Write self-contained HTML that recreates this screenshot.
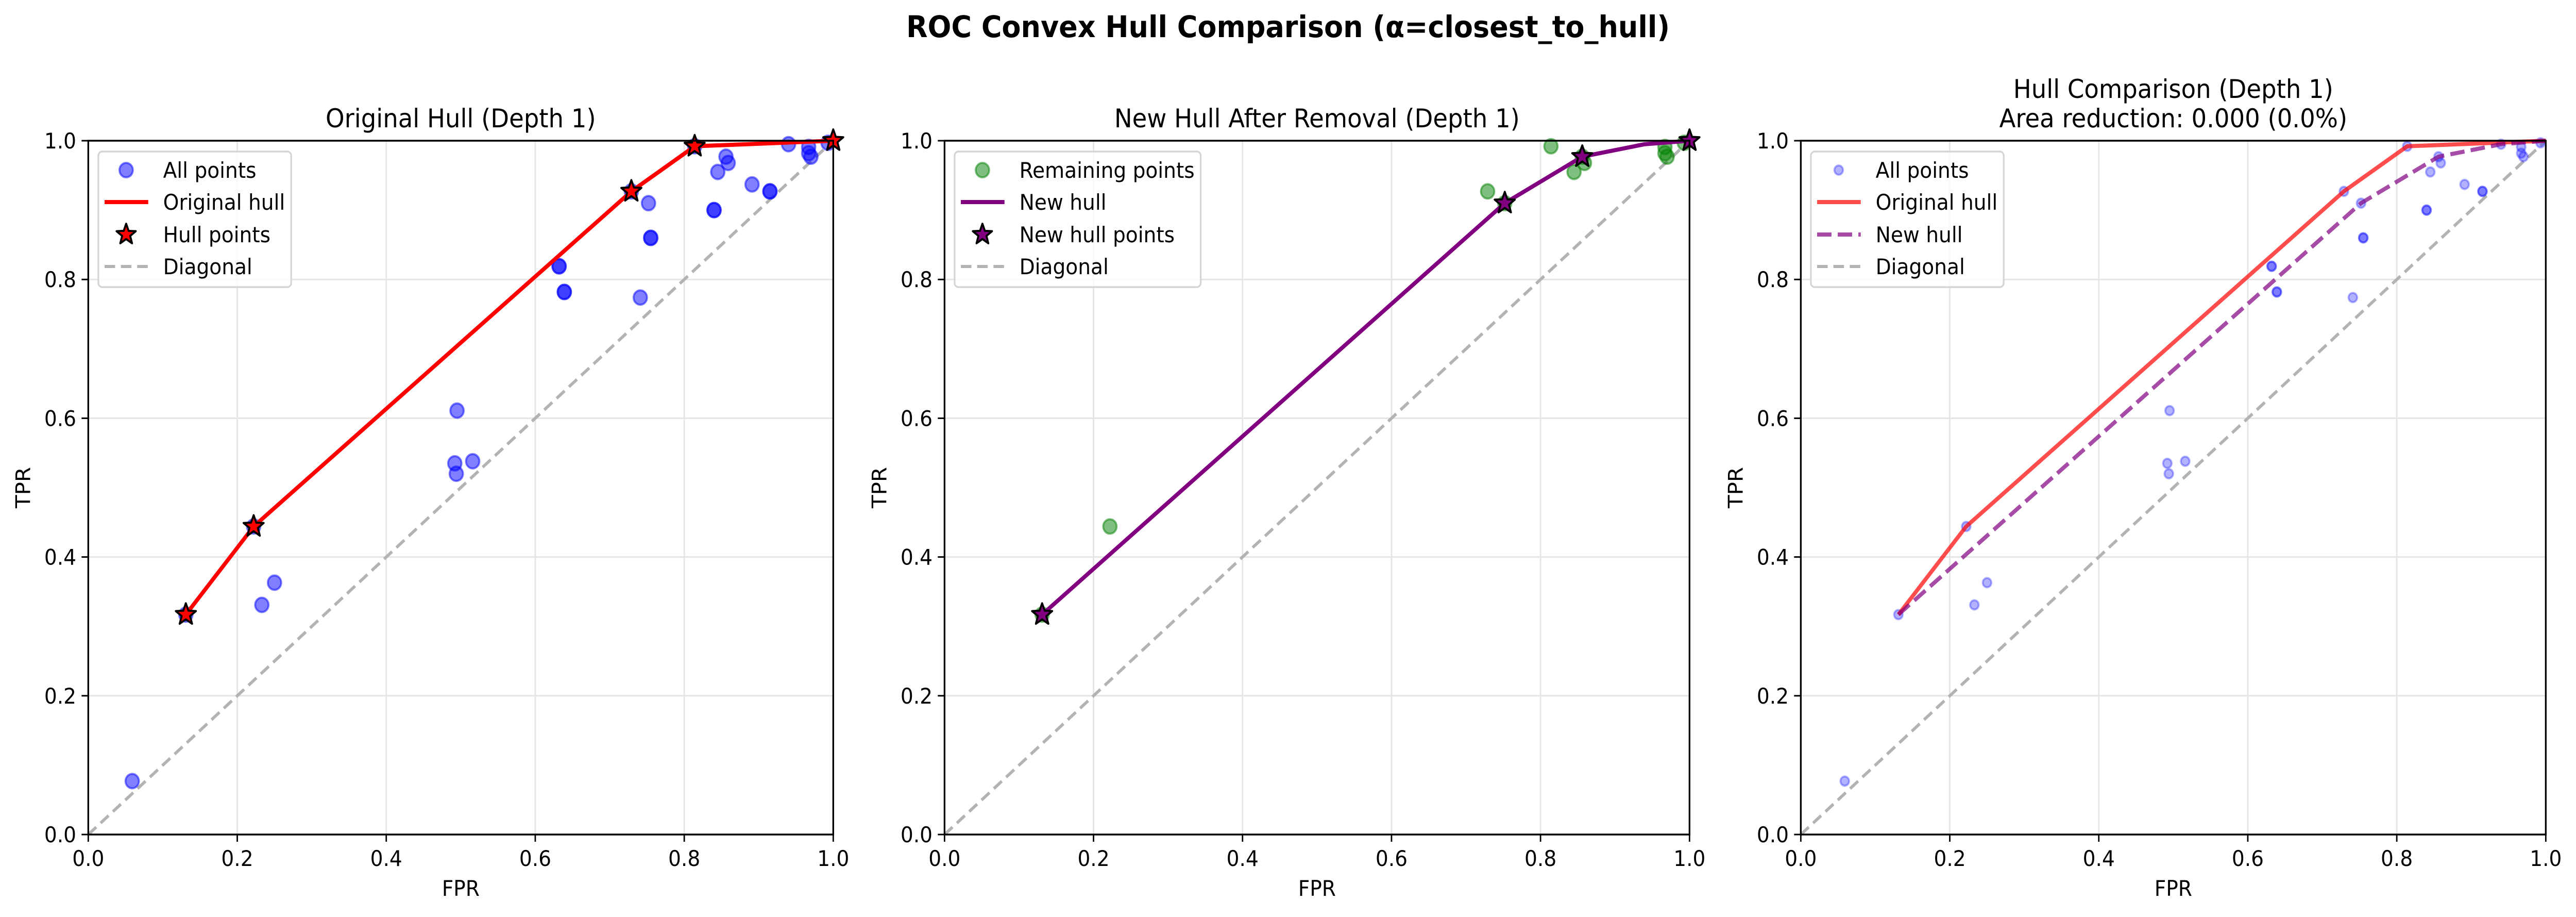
<!DOCTYPE html>
<html><head><meta charset="utf-8">
<style>
html,body{margin:0;padding:0;background:#fff;overflow:hidden;width:100vw;height:100vh;}
svg{display:block;width:100vw;height:100vh;font-family:"DejaVu Sans","Liberation Sans",sans-serif;}
</style></head>
<body>
<svg id="fig" viewBox="0 0 5370 1779" preserveAspectRatio="none" xmlns="http://www.w3.org/2000/svg">
<rect width="5370" height="1779" fill="#fff"/>
<text x="2685" y="72" font-size="58" font-weight="bold" text-anchor="middle">ROC Convex Hull Comparison (α=closest_to_hull)</text>
</svg>
<script>
// ---- data ----
const allFpr = [0.059,0.233,0.250,0.131,0.222,0.495,0.492,0.494,0.516,0.632,0.632,0.639,0.639,0.729,0.752,0.741,0.755,0.755,0.814,0.840,0.840,0.845,0.856,0.859,0.891,0.915,0.915,0.940,0.967,0.967,0.970,0.993];
const allTpr = [0.077,0.331,0.363,0.317,0.444,0.611,0.535,0.520,0.538,0.819,0.819,0.782,0.782,0.927,0.910,0.774,0.860,0.860,0.992,0.900,0.900,0.955,0.977,0.968,0.937,0.927,0.927,0.995,0.991,0.982,0.977,0.997];
const origHullFpr = [0.131,0.222,0.729,0.814,1.0];
const origHullTpr = [0.317,0.444,0.927,0.992,1.0];
const remFpr = [0.131,0.222,0.729,0.814,0.845,0.859,0.967,0.967,0.970,0.993,0.752,0.856];
const remTpr = [0.317,0.444,0.927,0.992,0.955,0.968,0.991,0.982,0.977,0.997,0.910,0.977];
const newHullFpr = [0.131,0.752,0.856,0.940,1.0];
const newHullTpr = [0.317,0.910,0.977,0.995,1.0];
const tickVals = [0,0.2,0.4,0.6,0.8,1.0];
const tickLabels = ["0.0","0.2","0.4","0.6","0.8","1.0"];

const NS="http://www.w3.org/2000/svg";
const svg=document.getElementById('fig');
function mk(tag,attrs,parent){const e=document.createElementNS(NS,tag);for(const k in attrs)e.setAttribute(k,attrs[k]);(parent||svg).appendChild(e);return e;}
const TOP=273,BOT=1619,W=1553;
const lefts=[184,1969,3754];
function sx(L,v){return L+v*W;}
function sy(v){return BOT-v*(BOT-TOP);}
function starPath(cx,cy,R){const r=R*0.42;let d='';for(let i=0;i<10;i++){const a=-Math.PI/2+i*Math.PI/5;const rr=i%2?r:R;d+=(i?'L':'M')+(cx+rr*Math.cos(a)).toFixed(1)+' '+(cy+rr*Math.sin(a)).toFixed(1);}return d+'Z';}

function axes(i,title){
  const L=lefts[i];
  const g=mk('g',{});
  
  
  tickVals.forEach((v,k)=>{
    const gx=mk('line',{x1:sx(L,v),x2:sx(L,v),y1:TOP,y2:BOT,stroke:'#e5e5e5','stroke-width':3},g);
    
    
    const gy=mk('line',{x1:L,x2:L+W,y1:sy(v),y2:sy(v),stroke:'#e5e5e5','stroke-width':3},g);
    
    
    mk('line',{x1:sx(L,v),x2:sx(L,v),y1:BOT,y2:BOT+14,stroke:'#000','stroke-width':3},g);
    mk('line',{x1:L-14,x2:L,y1:sy(v),y2:sy(v),stroke:'#000','stroke-width':3},g);
    const xt=mk('text',{x:sx(L,v),y:1680,'font-size':42,'text-anchor':'middle'},g);xt.textContent=tickLabels[k];
    
    
    const yt=mk('text',{x:L-25,y:sy(v)+15,'font-size':42,'text-anchor':'end'},g);yt.textContent=tickLabels[k];
    
    
  });
  const xl=mk('text',{x:L+W/2,y:1738,'font-size':42,'text-anchor':'middle'},g);xl.textContent='FPR';
  
  
  const yl=mk('text',{x:0,y:0,'font-size':42,'text-anchor':'middle',transform:`translate(${L-121},${(TOP+BOT)/2}) rotate(-90)`},g);yl.textContent='TPR';
  
  
  title.forEach((t,k)=>{const tt=mk('text',{x:L+W/2,y:(title.length===2?(k?247:190):247),'font-size':50,'text-anchor':'middle'},g);tt.textContent=t;
    
    });
  const d=mk('line',{x1:sx(L,0),y1:sy(0),x2:sx(L,1),y2:sy(1),stroke:'#b3b3b3','stroke-width':6,'stroke-dasharray':'22 12'},g);
  
  
  return g;
}
function line(i,xs,ys,color,width,dash,opacity,name){
  const L=lefts[i];
  const p=mk('polyline',{points:xs.map((x,k)=>sx(L,x)+','+sy(ys[k])).join(' '),fill:'none',stroke:color,'stroke-width':width,'stroke-opacity':opacity,'stroke-dasharray':dash||'none','stroke-linejoin':'round'});
  
  
}
function dots(i,xs,ys,color,r,op,name){
  const L=lefts[i];
  xs.forEach((x,k)=>{const c=mk('circle',{cx:sx(L,x),cy:sy(ys[k]),r:r,fill:color,'fill-opacity':op,stroke:color,'stroke-opacity':op,'stroke-width':4});
    
    });
}
function stars(i,xs,ys,color,name){
  const L=lefts[i];
  xs.forEach((x,k)=>{const s=mk('path',{d:starPath(sx(L,x),sy(ys[k]),22),fill:color,stroke:'#000','stroke-width':4,'stroke-linejoin':'round'});
    
    });
}
function frame(i){
  const L=lefts[i];
  const f=mk('rect',{x:L,y:TOP,width:W,height:BOT-TOP,fill:'none',stroke:'#000','stroke-width':3.5});
  
  
}
function legend(i,w,entries){
  const L=lefts[i];
  const x0=L+21,y0=294;
  const g=mk('g',{});
  
  
  mk('rect',{x:x0,y:y0,width:w,height:263,rx:8,fill:'#fff','fill-opacity':0.8,stroke:'#d5d5d5','stroke-width':3.5},g);
  entries.forEach((e,k)=>{
    const by=[345,407,470,532][k];const cy=by-15;const mx=L+79;
    if(e.t==='dot'){mk('circle',{cx:mx,cy:cy,r:e.r,fill:e.c,'fill-opacity':e.op,stroke:e.c,'stroke-opacity':e.op,'stroke-width':4},g);}
    else if(e.t==='line'){mk('line',{x1:L+34,x2:L+125,y1:cy,y2:cy,stroke:e.c,'stroke-width':e.w,'stroke-opacity':e.op,'stroke-dasharray':e.dash||'none'},g);}
    else {mk('path',{d:starPath(mx,cy,21),fill:e.c,stroke:'#000','stroke-width':4,'stroke-linejoin':'round'},g);}
    const t=mk('text',{x:L+156,y:by,'font-size':42},g);t.textContent=e.label;
    
    
  });
}
axes(0,['Original Hull (Depth 1)']);
dots(0,allFpr,allTpr,'#0000ff',14,0.5,'all-point');
line(0,origHullFpr,origHullTpr,'#ff0000',8,null,1,'original-hull-line');
stars(0,origHullFpr,origHullTpr,'#ff0000','hull-point');
frame(0);
legend(0,402,[{t:'dot',c:'#0000ff',r:14,op:0.5,label:'All points'},{t:'line',c:'#ff0000',w:8,op:1,label:'Original hull'},{t:'star',c:'#ff0000',label:'Hull points'},{t:'line',c:'#b3b3b3',w:6,op:1,dash:'22 12',label:'Diagonal'}]);
axes(1,['New Hull After Removal (Depth 1)']);
dots(1,remFpr,remTpr,'#008000',14,0.5,'remaining-point');
line(1,newHullFpr,newHullTpr,'#800080',8,null,1,'new-hull-line');
stars(1,[newHullFpr[0],newHullFpr[1],newHullFpr[2],newHullFpr[4]],[newHullTpr[0],newHullTpr[1],newHullTpr[2],newHullTpr[4]],'#800080','new-hull-point');
frame(1);
legend(1,513,[{t:'dot',c:'#008000',r:14,op:0.5,label:'Remaining points'},{t:'line',c:'#800080',w:8,op:1,label:'New hull'},{t:'star',c:'#800080',label:'New hull points'},{t:'line',c:'#b3b3b3',w:6,op:1,dash:'22 12',label:'Diagonal'}]);
axes(2,['Hull Comparison (Depth 1)','Area reduction: 0.000 (0.0%)']);
dots(2,allFpr,allTpr,'#0000ff',9,0.3,'all-point');
line(2,origHullFpr,origHullTpr,'#ff0000',8,null,0.7,'original-hull-line');
line(2,newHullFpr,newHullTpr,'#800080',8,'30 13',0.7,'new-hull-line');
frame(2);
legend(2,402,[{t:'dot',c:'#0000ff',r:9,op:0.3,label:'All points'},{t:'line',c:'#ff0000',w:8,op:0.7,label:'Original hull'},{t:'line',c:'#800080',w:8,op:0.7,dash:'30 13',label:'New hull'},{t:'line',c:'#b3b3b3',w:6,op:1,dash:'22 12',label:'Diagonal'}]);
</script>
</body></html>
